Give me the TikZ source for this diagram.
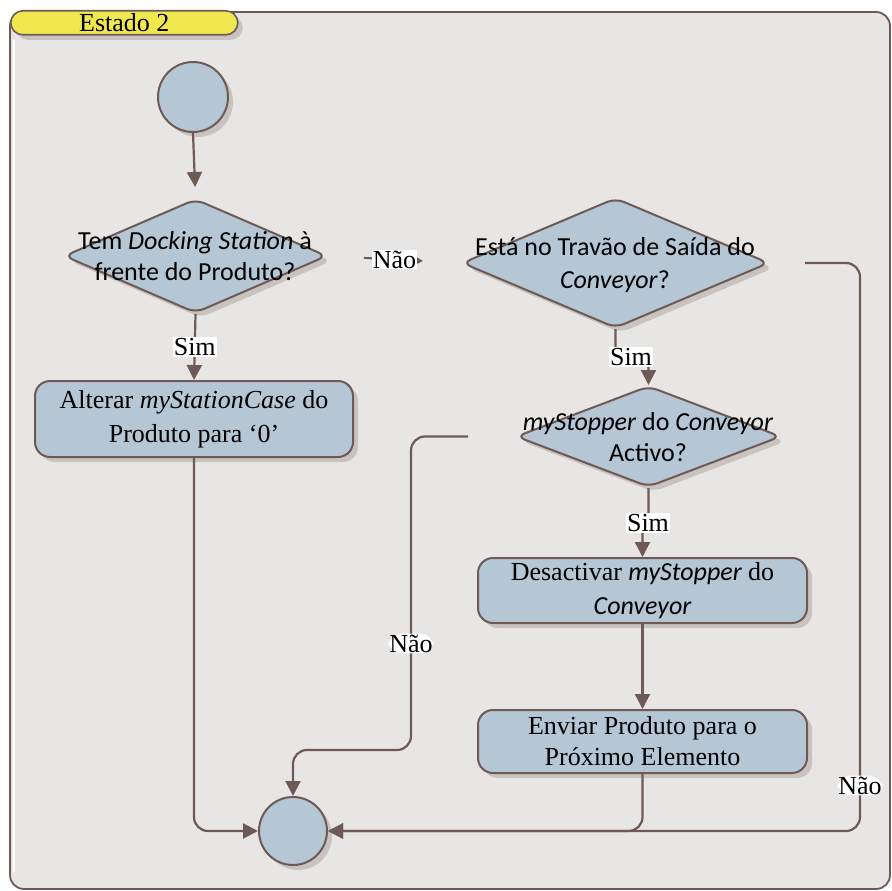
\documentclass[tikz,border=0pt]{standalone}
\usepackage{fontspec}
\setmainfont{Liberation Serif}
\newfontfamily\calfont{Carlito}
\usetikzlibrary{shapes.geometric,arrows.meta,calc,shadows}

\definecolor{bgfill}{HTML}{E8E6E4}
\definecolor{edge}{HTML}{6E5A55}
\definecolor{boxfill}{HTML}{B5C6D5}
\definecolor{shade}{HTML}{C9C3C0}
\definecolor{tabfill}{HTML}{F0E84E}

\tikzset{
  softshadow/.style={drop shadow={shadow xshift=5pt,shadow yshift=-5pt,fill=shade,opacity=1}},
  startend/.style={circle,draw=edge,line width=2pt,fill=boxfill,softshadow,inner sep=0pt},
  decision/.style={diamond,draw=edge,line width=2pt,fill=boxfill,softshadow,inner sep=0pt,rounded corners=9pt},
  action/.style={rectangle,draw=edge,line width=2pt,fill=boxfill,softshadow,rounded corners=15pt,
    align=center,font=\fontsize{26}{34}\selectfont},
  dtext/.style={align=center,inner sep=0pt,font=\calfont\fontsize{26}{31}\selectfont},
  conn/.style={draw=edge,line width=2.2pt,-{Triangle[length=15pt,width=15pt]}},
  lbl/.style={fill=white,inner sep=1pt,font=\fontsize{26}{26}\selectfont,text=black},
}

\begin{document}
\begin{tikzpicture}[x=1pt,y=-1pt]
\useasboundingbox (0,0) rectangle (892,891);

% state frame
\draw[edge,line width=1.8pt,fill=bgfill,rounded corners=14pt] (10,12) rectangle (890,889);
\draw[white,line width=2pt] (14,40) -- (14,872);

% title tab
\node[draw=edge,line width=1.6pt,fill=tabfill,rounded corners=12pt,softshadow,
      minimum width=227pt,minimum height=24pt,inner sep=0pt,anchor=north west,
      font=\fontsize{26}{26}\selectfont] (tab) at (10,10) {Estado 2};

% nodes
\node[startend,minimum size=70pt] (s) at (193,97) {};
\node[decision,minimum width=263pt,minimum height=114pt] (d1) at (195.5,256) {};
\node[dtext] (d1t) at (195,256) {Tem \textit{Docking Station} à\\frente do Produto?};

\node[decision,minimum width=307pt,minimum height=130pt] (d2) at (615.5,263) {};
\node[dtext,font=\calfont\fontsize{26}{33}\selectfont] (d2t) at (615,265) {Está no Travão de Saída do\\\textit{Conveyor}?};

\node[decision,minimum width=265pt,minimum height=101pt] (d3) at (648.5,436.5) {};
\node[dtext] (d3t) at (648,437) {\textit{myStopper} do \textit{Conveyor}\\Activo?};

\node[action,minimum width=318pt,minimum height=76pt] (r1) at (194,419)
  {Alterar \textit{myStationCase} do\\Produto para ‘0’};
\node[action,minimum width=329pt,minimum height=65pt] (r2) at (642.5,590.5)
  {Desactivar {\calfont\itshape myStopper} do\\{\calfont\itshape Conveyor}};
\node[action,minimum width=329pt,minimum height=63pt,font=\fontsize{26}{31}\selectfont] (r3) at (642.5,741.5)
  {Enviar Produto para o\\Próximo Elemento};

\node[startend,minimum size=68pt] (e) at (293,831) {};

% connectors
\draw[conn,shorten >=11pt] (s.south) -- (d1.north);
\draw[conn] (d1.south) -- node[lbl]{Sim} (r1.north);
\draw[conn,rounded corners=14pt] (r1.south) |- (e.west);

\draw[draw=edge,line width=2pt,-{Triangle[length=7pt,width=7pt]},shorten <=36pt,shorten >=38pt]
  (d1.east) -- node[lbl]{Não} (d2.west);

\draw[conn,rounded corners=14pt] ($(d2.east)+(35,0)$) -- (860,263)
  -- node[lbl,pos=0.92]{Não} (860,831) -- (e.east);

\draw[conn,rounded corners=8pt] (d2.south) -- (615.5,357) -| (d3.north);
\node[lbl] (sim2) at (631,357) {Sim};

\draw[conn,rounded corners=14pt] ($(d3.west)+(-47,0)$) -- (411,436.5)
  -- node[lbl,pos=0.66]{Não} (411,750) -- (293,750) -- (e.north);

\draw[conn,rounded corners=6pt] (d3.south) -- (648.5,523) -| (r2.north);
\node[lbl] (sim3) at (648,523) {Sim};

\draw[conn] (r2.south) -- (r3.north);
\draw[conn,rounded corners=14pt] (r3.south) |- (e.east);
\end{tikzpicture}
\end{document}
